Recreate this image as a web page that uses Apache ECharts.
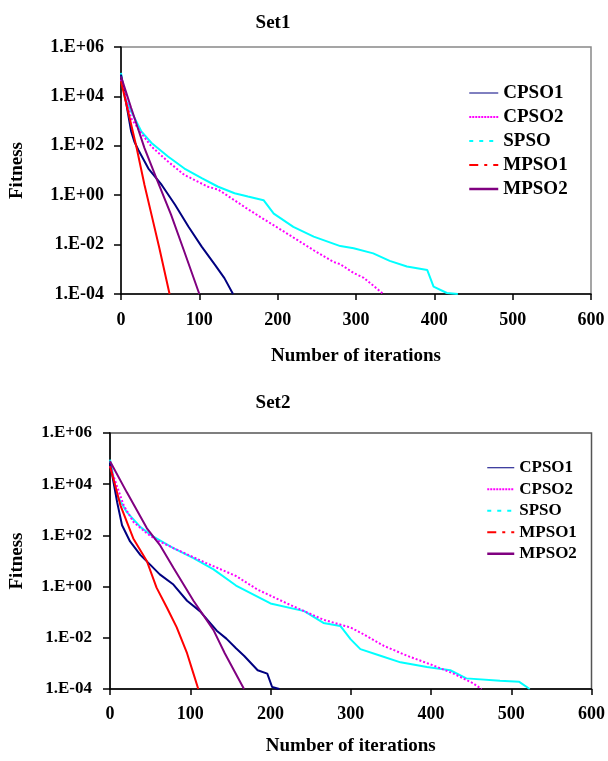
<!DOCTYPE html>
<html>
<head>
<meta charset="utf-8">
<script src="https://cdn.jsdelivr.net/npm/echarts@6/dist/echarts.min.js"></script>
<style>
    html, body {margin: 0; padding: 0; background: #fff;}
    #set1Chart {width: 608px; height: 380px;}
    #set2Chart {width: 608px; height: 381px;}
</style>
</head>
<body>
<div id="set1Chart"></div>
<div id="set2Chart"></div>
<script>
let names = ['CPSO1', 'CPSO2', 'SPSO', 'MPSO1', 'MPSO2'];
let xTicks = [0, 100, 200, 300, 400, 500, 600];

// Set1 values
let s1Cpso1X = [0, 7, 13, 17, 22, 35, 52, 69, 86, 103, 120, 132, 143];
let s1Cpso1Y = [7.6e4, 4.6e3, 380, 150, 69, 12, 2.6, 0.41, 0.054, 8.3e-3, 1.5e-3, 4.4e-4, 1e-4];
let s1Cpso2X = [0, 13, 26, 39, 60, 81, 111, 124, 160, 178, 212, 246, 271, 280, 297, 310, 335];
let s1Cpso2Y = [4.8e4, 1.3e3, 320, 93, 23, 6.6, 2.2, 1.7, 0.3, 0.13, 0.028, 5.9e-3, 2e-3, 1.6e-3, 7.1e-4, 4.5e-4, 1e-4];
let s1SpsoX = [0, 5, 13, 26, 39, 60, 81, 103, 124, 145, 162, 182, 195, 220, 246, 271, 280, 297, 322, 343, 365, 391, 399, 416, 430];
let s1SpsoY = [8.9e4, 8.5e3, 2.5e3, 380, 130, 37, 12, 4.9, 2.2, 1.2, 0.89, 0.63, 0.18, 0.052, 0.021, 0.011, 8.7e-3, 7.1e-3, 4.4e-3, 2.2e-3, 1.3e-3, 9.3e-4, 2e-4, 1.1e-4, 1e-4];
let s1Mpso1X = [0, 9, 20, 30, 39, 49, 62];
let s1Mpso1Y = [4.1e4, 2.5e3, 81, 2.6, 0.16, 7.1e-3, 1e-4];
let s1Mpso2X = [0, 13, 30, 47, 64, 81, 100];
let s1Mpso2Y = [6.5e4, 3.4e3, 81, 3.5, 0.16, 5e-3, 1e-4];

// Set2 values
let s2Cpso1X = [0, 9, 15, 25, 38, 50, 62, 79, 96, 112, 133, 145, 157, 167, 184, 196, 202, 211];
let s2Cpso1Y = [6.8e4, 1.9e3, 250, 58, 17, 7.2, 3, 1.2, 0.28, 0.11, 0.019, 9.3e-3, 3.9e-3, 2e-3, 5.4e-4, 4e-4, 1.2e-4, 1e-4];
let s2Cpso2X = [0, 17, 29, 46, 58, 79, 120, 157, 184, 225, 266, 300, 312, 341, 370, 403, 428, 452, 463];
let s2Cpso2Y = [5.1e4, 1.5e3, 340, 120, 66, 32, 8.3, 2.6, 0.76, 0.19, 0.051, 0.025, 0.016, 4.9e-3, 2e-3, 8.3e-4, 4e-4, 1.7e-4, 1e-4];
let s2SpsoX = [0, 9, 21, 38, 54, 79, 104, 129, 157, 200, 242, 266, 287, 300, 312, 337, 362, 395, 424, 444, 486, 510, 523];
let s2SpsoY = [9.1e4, 3.5e3, 810, 210, 89, 32, 13, 4.7, 1.1, 0.22, 0.11, 0.038, 0.029, 8.7e-3, 3.6e-3, 2e-3, 1.1e-3, 7.2e-4, 5.4e-4, 2.6e-4, 2.1e-4, 1.9e-4, 1e-4];
let s2Mpso1X = [0, 13, 29, 46, 58, 71, 83, 96, 104, 110];
let s2Mpso1Y = [5.1e4, 1.5e3, 76, 9.8, 0.91, 0.15, 0.026, 2.5e-3, 4e-4, 1e-4];
let s2Mpso2X = [0, 21, 46, 62, 79, 104, 129, 143, 167];
let s2Mpso2Y = [7.9e4, 4.8e3, 190, 43, 5.4, 0.28, 0.02, 2.5e-3, 1e-4];

const FONT = 'Liberation Serif';
const colors = ['#000080', '#FF00FF', '#00FFFF', '#FF0000', '#800080'];
const lineTypes = ['solid', 'dotted', 'solid', 'solid', 'solid'];
const legendTypes = ['solid', [2, 1], [4, 6], [9, 6, 3, 6], 'solid'];
const legendWidths = [1, 2, 2, 2, 2.5];

function zip(xs, ys) {
    return xs.map((x, i) => [x, ys[i]]);
}

function expLabel(v) {
    let e = Math.round(Math.log10(v));
    let s = String(Math.abs(e)).padStart(2, '0');
    return '1.E' + (e < 0 ? '-' : '+') + s;
}

function buildOption(title, grid, seriesXY, cfg) {
    return {
        animation: false,
        color: colors,
        title: {
            text: title,
            left: 268, top: cfg.titleTop,
            textAlign: 'center',
            textStyle: {fontFamily: FONT, fontWeight: 'bold', fontSize: 19, color: '#000'}
        },
        legend: {
            orient: 'vertical',
            left: cfg.legendLeft, top: cfg.legendTop,
            itemWidth: cfg.legendIconW,
            itemHeight: cfg.legendRow - 4,
            itemGap: 4,
            textStyle: {fontFamily: FONT, fontWeight: 'bold', fontSize: cfg.legendFont, color: '#000', lineHeight: cfg.legendRow},
            data: names.map((n, i) => ({
                name: n,
                itemStyle: {opacity: 0, borderWidth: 0},
                lineStyle: {type: legendTypes[i], width: legendWidths[i], color: colors[i], opacity: 1}
            }))
        },
        grid: Object.assign({show: true, borderColor: cfg.borderColor, borderWidth: 1.5}, grid),
        xAxis: {
            type: 'value', min: 0, max: 600, interval: 100,
            name: 'Number of iterations', nameLocation: 'middle', nameGap: cfg.xNameGap,
            nameTextStyle: {fontFamily: FONT, fontWeight: 'bold', fontSize: 19, color: '#000'},
            axisLine: {show: true, lineStyle: {color: '#000', width: 1.5}},
            axisTick: {show: true, interval: 0, inside: false, length: 6, lineStyle: {color: '#000', width: 1.5}},
            axisLabel: {
                margin: cfg.xLabelMargin, fontFamily: FONT, fontWeight: 'bold', fontSize: 18, color: '#000',
                formatter: v => xTicks.includes(v) ? String(v) : ''
            },
            splitLine: {show: false}
        },
        yAxis: {
            type: 'log', logBase: 10, min: 1e-4, max: 1e6, interval: 2,
            name: 'Fitness', nameLocation: 'middle', nameGap: cfg.yNameGap,
            nameTextStyle: {fontFamily: FONT, fontWeight: 'bold', fontSize: 19, color: '#000'},
            axisLine: {show: true, lineStyle: {color: '#000', width: 1.5}},
            axisTick: {show: true, interval: 0, inside: false, length: 7, lineStyle: {color: '#000', width: 1.5}},
            axisLabel: {
                margin: cfg.yLabelMargin, fontFamily: FONT, fontWeight: 'bold', fontSize: cfg.yLabelFont, color: '#000',
                formatter: expLabel
            },
            splitLine: {show: false}
        },
        series: seriesXY.map((d, i) => ({
            name: names[i],
            type: 'line',
            showSymbol: false,
            symbol: 'none',
            data: zip(d[0], d[1]),
            lineStyle: {color: colors[i], width: 2, type: lineTypes[i]},
            z: [3, 4, 2, 5, 6][i]
        }))
    };
}

let myChart = echarts.init(document.getElementById('set1Chart'));
let myChart2 = echarts.init(document.getElementById('set2Chart'));

myChart.setOption(buildOption('Set1',
    {left: 121, top: 47, width: 470, height: 247},
    [[s1Cpso1X, s1Cpso1Y], [s1Cpso2X, s1Cpso2Y], [s1SpsoX, s1SpsoY], [s1Mpso1X, s1Mpso1Y], [s1Mpso2X, s1Mpso2Y]],
    {
        titleTop: 9, legendLeft: 463, legendTop: 78, legendIconW: 29, legendRow: 20, legendFont: 19,
        borderColor: '#888', xNameGap: 53, xLabelMargin: 17, yNameGap: 94, yLabelMargin: 17, yLabelFont: 18
    }));

myChart2.setOption(buildOption('Set2',
    {left: 108, top: 53, width: 484, height: 261},
    [[s2Cpso1X, s2Cpso1Y], [s2Cpso2X, s2Cpso2Y], [s2SpsoX, s2SpsoY], [s2Mpso1X, s2Mpso1Y], [s2Mpso2X, s2Mpso2Y]],
    {
        titleTop: 9, legendLeft: 481, legendTop: 74, legendIconW: 27, legendRow: 17.5, legendFont: 17,
        borderColor: '#555', xNameGap: 48, xLabelMargin: 16, yNameGap: 83, yLabelMargin: 18, yLabelFont: 17
    }));
</script>
</body>
</html>
